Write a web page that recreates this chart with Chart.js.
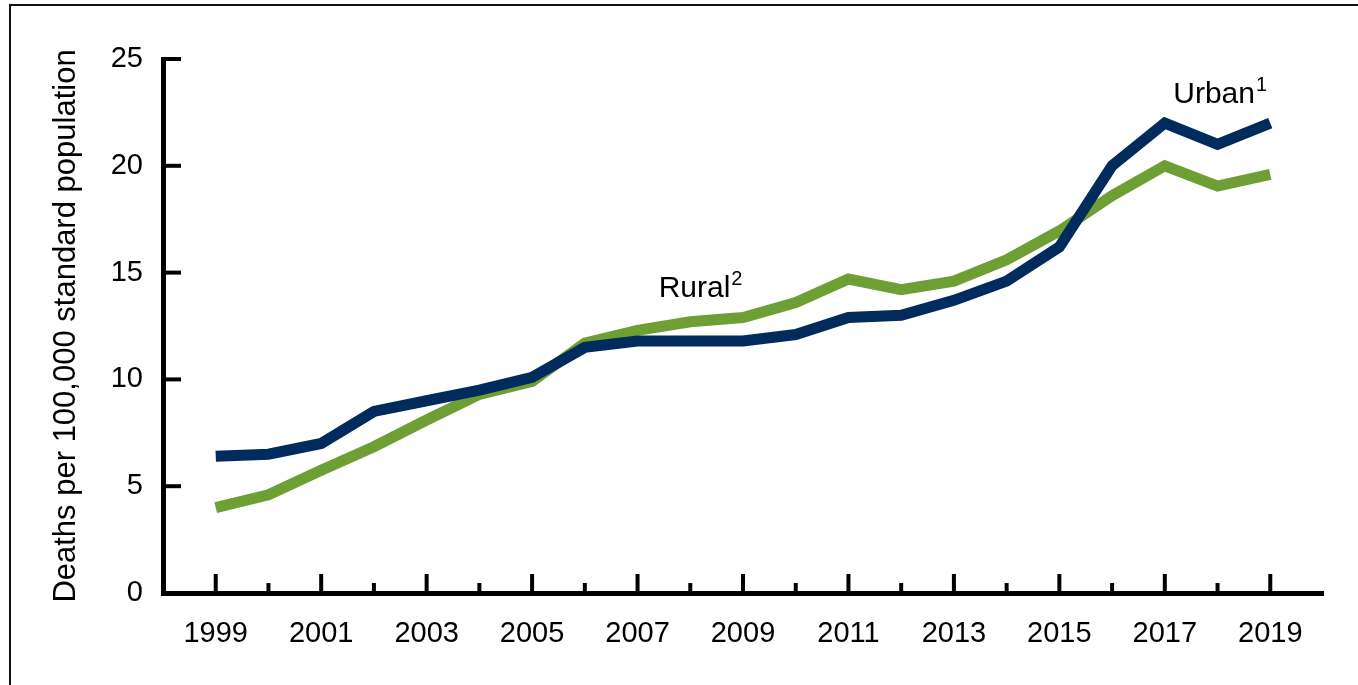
<!DOCTYPE html>
<html>
<head>
<meta charset="utf-8">
<script src="https://cdn.jsdelivr.net/npm/chart.js@4/dist/chart.umd.min.js"></script>
<style>
  html, body { margin: 0; padding: 0; background: #fff; overflow: hidden; }
  #frame { position: absolute; left: 9px; top: 4px; width: 1360px; height: 700px;
           border-left: 2px solid #111; border-top: 2px solid #111; }
  #wrap { position: absolute; left: 0; top: 0; width: 1358px; height: 685px; }
</style>
</head>
<body>
<div id="frame"></div>
<div id="wrap"><canvas id="chart" width="1358" height="685"></canvas></div>
<script>
const years = [1999, 2000, 2001, 2002, 2003, 2004, 2005, 2006, 2007, 2008, 2009,
               2010, 2011, 2012, 2013, 2014, 2015, 2016, 2017, 2018, 2019];
const urban = [6.4, 6.5, 7.0, 8.5, 9.0, 9.5, 10.1, 11.5, 11.8, 11.8, 11.8,
               12.1, 12.9, 13.0, 13.7, 14.6, 16.2, 20.0, 22.0, 21.0, 22.0];
const rural = [4.0, 4.6, 5.75, 6.85, 8.1, 9.3, 9.9, 11.7, 12.3, 12.7, 12.9,
               13.6, 14.7, 14.2, 14.6, 15.6, 16.95, 18.6, 20.0, 19.05, 19.6];
const yTicks = [0, 5, 10, 15, 20, 25];
const xLabelYears = [1999, 2001, 2003, 2005, 2007, 2009, 2011, 2013, 2015, 2017, 2019];

const font = "'Liberation Sans', Arial, sans-serif";

// inward ticks and line labels
const axisMarks = {
  id: "axisMarks",
  afterDatasetsDraw(chart) {
    const { ctx, scales: { x, y } } = chart;
    ctx.save();
    ctx.strokeStyle = "#000";
    ctx.lineWidth = 4;
    ctx.lineCap = "butt";
    yTicks.forEach((v) => {
      const py = y.getPixelForValue(v);
      ctx.beginPath();
      ctx.moveTo(x.left, py);
      ctx.lineTo(x.left + 18, py);
      ctx.stroke();
    });
    years.forEach((yr) => {
      const px = x.getPixelForValue(yr);
      const len = (yr % 2 === 1) ? 19 : 10;
      ctx.beginPath();
      ctx.moveTo(px, y.bottom);
      ctx.lineTo(px, y.bottom - len);
      ctx.stroke();
    });

    ctx.fillStyle = "#000";
    ctx.textBaseline = "alphabetic";
    ctx.textAlign = "left";
    const drawLabel = (word, sup, year, value) => {
      const px = x.getPixelForValue(year);
      const py = y.getPixelForValue(value);
      ctx.font = `30px ${font}`;
      ctx.fillText(word, px, py);
      const w = ctx.measureText(word).width;
      ctx.font = `20px ${font}`;
      ctx.fillText(sup, px + w + 1, py - 12);
    };
    drawLabel("Urban", "1", 2017.16, 22.94);
    drawLabel("Rural", "2", 2007.4, 13.86);
    ctx.restore();
  }
};

new Chart(document.getElementById("chart"), {
  type: "line",
  data: {
    datasets: [
      {
        label: "Urban",
        data: years.map((yr, i) => ({ x: yr, y: urban[i] })),
        borderColor: "#002b5c",
        borderWidth: 11,
        pointRadius: 0,
        tension: 0,
        borderJoinStyle: "miter"
      },
      {
        label: "Rural",
        data: years.map((yr, i) => ({ x: yr, y: rural[i] })),
        borderColor: "#6e9f34",
        borderWidth: 11,
        pointRadius: 0,
        tension: 0,
        borderJoinStyle: "miter"
      }
    ]
  },
  options: {
    responsive: false,
    animation: false,
    layout: { padding: { left: 48, top: 59, right: 35, bottom: 0 } },
    plugins: { legend: { display: false }, tooltip: { enabled: false } },
    scales: {
      x: {
        type: "linear",
        min: 1998,
        max: 2020,
        afterFit(scale) { scale.height = 92; },
        afterBuildTicks(scale) { scale.ticks = xLabelYears.map((v) => ({ value: v })); },
        grid: { display: false, drawTicks: false },
        border: { display: true, color: "#000", width: 5 },
        ticks: {
          color: "#000",
          font: { family: font, size: 29 },
          padding: 24,
          maxRotation: 0,
          autoSkip: false,
          callback: (v) => String(v)
        }
      },
      y: {
        min: 0,
        max: 25,
        afterFit(scale) { scale.width = 115; },
        afterBuildTicks(scale) { scale.ticks = yTicks.map((v) => ({ value: v })); },
        grid: { display: false, drawTicks: false },
        border: { display: true, color: "#000", width: 5 },
        ticks: {
          color: "#000",
          font: { family: font, size: 29 },
          padding: 20
        },
        title: {
          display: true,
          text: "Deaths per 100,000 standard population",
          color: "#000",
          font: { family: font, size: 31 },
          padding: { top: 0, bottom: 0 }
        }
      }
    }
  },
  plugins: [axisMarks]
});
</script>
</body>
</html>
